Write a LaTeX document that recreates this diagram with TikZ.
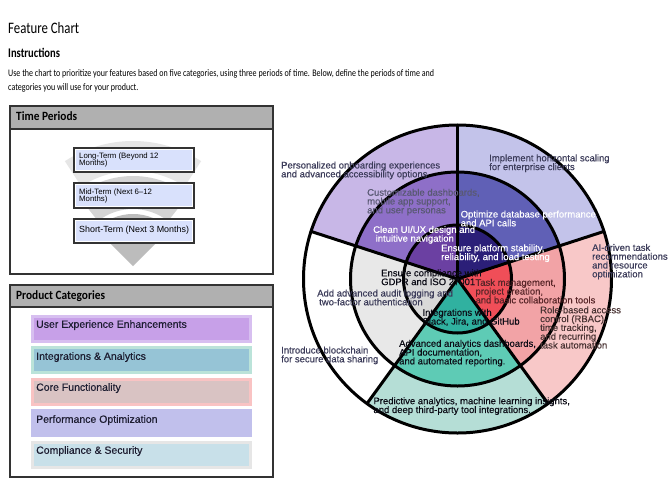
\documentclass[tikz,border=0pt]{standalone}
\usepackage{fontspec}
\setmainfont{Liberation Sans}
\newfontfamily\hdr[FakeStretch=0.8]{Carlito}
\newfontfamily\phdr[FakeStretch=0.9]{Carlito}
\newfontfamily\lblfam[FakeBold=0.35]{Liberation Sans}
\usetikzlibrary{calc}
\definecolor{uxO}{HTML}{C8B7E7}
\definecolor{uxM}{HTML}{8E6FC8}
\definecolor{uxI}{HTML}{6B40A2}
\definecolor{pfO}{HTML}{C3C3EA}
\definecolor{pfM}{HTML}{6060B6}
\definecolor{pfI}{HTML}{2B1F78}
\definecolor{crO}{HTML}{F8C8C8}
\definecolor{crM}{HTML}{F2A3A6}
\definecolor{crI}{HTML}{F04E58}
\definecolor{inO}{HTML}{B5DED6}
\definecolor{inM}{HTML}{5ECBB5}
\definecolor{inI}{HTML}{30B1A0}
\definecolor{cpO}{HTML}{FFFFFF}
\definecolor{cpM}{HTML}{E8E8E8}
\definecolor{cpI}{HTML}{D9D9D9}
\definecolor{txG}{HTML}{3C3C5A}
\definecolor{txB}{HTML}{4A3434}
\definecolor{txR}{HTML}{582528}
\definecolor{txK}{HTML}{0C0C16}
\definecolor{hdrgray}{HTML}{B0B0B0}
\definecolor{frame}{HTML}{333333}
\definecolor{tpfill}{HTML}{D9E1FC}
\definecolor{funA}{HTML}{E6E6E6}
\definecolor{funB}{HTML}{D4D4D4}
\definecolor{funC}{HTML}{BCBCBC}
\definecolor{cUXb}{HTML}{D7BFF0}
\definecolor{cUXf}{HTML}{C7A0E8}
\definecolor{cINb}{HTML}{BBE3D9}
\definecolor{cINf}{HTML}{96C4D6}
\definecolor{cCRb}{HTML}{F9C3C3}
\definecolor{cCRf}{HTML}{D9C3C3}
\definecolor{cPFb}{HTML}{C1C0EC}
\definecolor{cPFf}{HTML}{C1C0EC}
\definecolor{cCPb}{HTML}{E6E6E6}
\definecolor{cCPf}{HTML}{C8E0E9}
\definecolor{cattx}{HTML}{1C1C30}
\newcommand\chartfont{\lblfam\fontsize{9.5}{8.8}\selectfont\lineskiplimit=-20pt\relax}
\newcommand\tpfont{\fontsize{7.8}{7.4}\selectfont\lineskiplimit=-20pt\relax}
\begin{document}
\begin{tikzpicture}[x=1pt,y=1pt,
  ring/.style={line width=3pt, black, line cap=round},
  lbl/.style={anchor=north west, inner sep=0pt, align=left, font=\chartfont},
  hd/.style={anchor=base west, inner sep=0pt},
  panel/.style={draw=frame, line width=1.2pt},
  tpbox/.style={draw=frame, line width=1.3pt, fill=white},
  tptext/.style={anchor=north west, inner sep=0pt, align=left, font=\tpfont},
  cattext/.style={anchor=base west, inner sep=0pt, font=\lblfam\fontsize{10.5}{12}\selectfont, text=cattx}]
\fill[white] (0,0) rectangle (670,-499);
\useasboundingbox (0,0) rectangle (670,-499);

% ---------- header ----------
\node[hd, font=\hdr\fontsize{16}{19}\selectfont] (title) at (8,-33) {Feature Chart};
\node[hd, font=\hdr\bfseries\fontsize{13.2}{15}\selectfont] (instr) at (8,-57.3) {Instructions};
\node[hd, font=\hdr\fontsize{10}{14}\selectfont] (body1) at (8,-76.5) {Use the chart to prioritize your features based on five categories, using three periods of time. Below, define the periods of time and};
\node[hd, font=\hdr\fontsize{10}{14}\selectfont] (body2) at (8,-90.5) {categories you will use for your product.};

% ---------- Time periods panel ----------
\fill[hdrgray] (10,-106) rectangle (273,-129);
\draw[panel] (10,-106) rectangle (273,-274);
\draw[panel] (10,-129) -- (273,-129);
\node[hd, font=\phdr\bfseries\fontsize{12.6}{14}\selectfont] (tph) at (16,-120.7) {Time Periods};

\coordinate (A) at (133,-266);
\fill[funA] ($(A)+(57:125pt)$) arc[start angle=57,end angle=123,radius=125pt] -- ($(A)+(123:95pt)$) arc[start angle=123,end angle=57,radius=95pt] -- cycle;
\fill[funB] ($(A)+(52:90pt)$) arc[start angle=52,end angle=128,radius=90pt] -- ($(A)+(128:57pt)$) arc[start angle=128,end angle=52,radius=57pt] -- cycle;
\fill[funC] (A) -- ($(A)+(45:52pt)$) arc[start angle=45,end angle=135,radius=52pt] -- cycle;

\draw[tpbox] (74,-148) rectangle (194,-172);
\fill[tpfill] (75.8,-149.8) rectangle (192.2,-170.2);
\node[tptext] (lt) at (79,-152.4) {Long-Term (Beyond 12\\Months)};
\draw[tpbox] (74,-183) rectangle (194,-208);
\fill[tpfill] (75.8,-184.8) rectangle (192.2,-206.2);
\node[tptext] (mt) at (79,-188.7) {Mid-Term (Next 6\textendash12\\Months)};
\draw[tpbox] (74,-219) rectangle (194,-243);
\fill[tpfill] (75.8,-220.8) rectangle (192.2,-241.2);
\node[anchor=base west, inner sep=0pt, font=\fontsize{8.9}{10}\selectfont] (st) at (79,-232.2) {Short-Term (Next 3 Months)};

% ---------- Product categories panel ----------
\fill[hdrgray] (10,-285) rectangle (273,-307);
\draw[panel] (10,-285) rectangle (273,-477);
\draw[panel] (10,-307) -- (273,-307);
\node[hd, font=\phdr\bfseries\fontsize{12.6}{14}\selectfont] (pch) at (16,-299.3) {Product Categories};

\foreach \yt/\yb/\cb/\cf in {315/343/cUXb/cUXf, 346/374/cINb/cINf, 378/406/cCRb/cCRf, 409/437/cPFb/cPFf, 441/469/cCPb/cCPf}{
  \fill[\cb] (31,-\yt) rectangle (252,-\yb);
  \fill[\cf] (34,-\yt-3) rectangle (249,-\yb+3);
}
\node[cattext] (c1) at (36,-327.8) {User Experience Enhancements};
\node[cattext] (c2) at (36,-359.8) {Integrations \& Analytics};
\node[cattext] (c3) at (36,-390.8) {Core Functionality};
\node[cattext] (c4) at (36,-422.8) {Performance Optimization};
\node[cattext] (c5) at (36,-453.8) {Compliance \& Security};

% ---------- Chart ----------
\coordinate (C) at (457.5,-279);
\begin{scope}[shift={(457.5,-279)}]
\foreach \a/\b/\ci/\cm/\co in {90/162/uxI/uxM/uxO, 162/234/cpI/cpM/cpO, 234/306/inI/inM/inO, 306/378/crI/crM/crO, 18/90/pfI/pfM/pfO}{
  \fill[\ci] (0,0) -- (\a:54pt) arc[start angle=\a,end angle=\b,radius=54pt] -- cycle;
  \fill[\cm] (\a:107pt) arc[start angle=\a,end angle=\b,radius=107pt] -- (\b:54pt) arc[start angle=\b,end angle=\a,radius=54pt] -- cycle;
  \fill[\co] (\a:154pt) arc[start angle=\a,end angle=\b,radius=154pt] -- (\b:107pt) arc[start angle=\b,end angle=\a,radius=107pt] -- cycle;
}
\end{scope}
\draw[ring] (C) circle[radius=54pt];
\draw[ring] (C) circle[radius=107pt];
\draw[ring] (C) circle[radius=154pt];
\foreach \a in {90,162,234,306,18}{
  \draw[ring] (C) -- ($(C)+(\a:154pt)$);
}

% labels
\node[lbl, text=txG] (ux3) at (281,-161.4) {Personalized onboarding experiences\\and advanced accessibility options};
\node[lbl, text=txG!85!white] (ux2) at (367,-188.6) {Customizable dashboards,\\mobile app support,\\and user personas};
\node[lbl, text=white] (ux1) at (373,-225.8) {Clean UI/UX design and\\\hspace{2.5pt}intuitive navigation};
\node[lbl, text=txG] (pf3) at (489,-154.2) {Implement horizontal scaling\\for enterprise clients};
\node[lbl, text=white] (pf2) at (460.5,-210.4) {Optimize database performance\\and API calls};
\node[lbl, text=white] (pf1) at (441,-244.2) {Ensure platform stability,\\reliability, and load testing};
\node[lbl, text=txG] (cr3) at (592,-243.8) {AI-driven task\\recommendations\\and resource\\optimization};
\node[lbl, text=txR] (cr1) at (475.3,-278.7) {Task management,\\project creation,\\and basic collaboration tools};
\node[lbl, text=txB] (cr2) at (540,-306.2) {Role-based access\\control (RBAC),\\time tracking,\\and recurring\\task automation};
\node[lbl, text=txK] (cp1) at (381,-269.2) {Ensure compliance with\\GDPR and ISO 27001};
\node[lbl, text=txG] (cp2) at (317,-289.4) {Add advanced audit logging and\\\hspace{2pt}two-factor authentication};
\node[lbl, text=txG] (cp3) at (281,-346.4) {Introduce blockchain\\for secure data sharing};
\node[lbl, text=txK] (in1) at (422.3,-308.7) {Integrations with\\Slack, Jira, and GitHub};
\node[lbl, text=txK] (in2) at (399,-339.7) {Advanced analytics dashboards,\\API documentation,\\and automated reporting.};
\node[lbl, text=txK] (in3) at (373.3,-397.1) {Predictive analytics, machine learning insights,\\and deep third-party tool integrations.};
\end{tikzpicture}
\end{document}
